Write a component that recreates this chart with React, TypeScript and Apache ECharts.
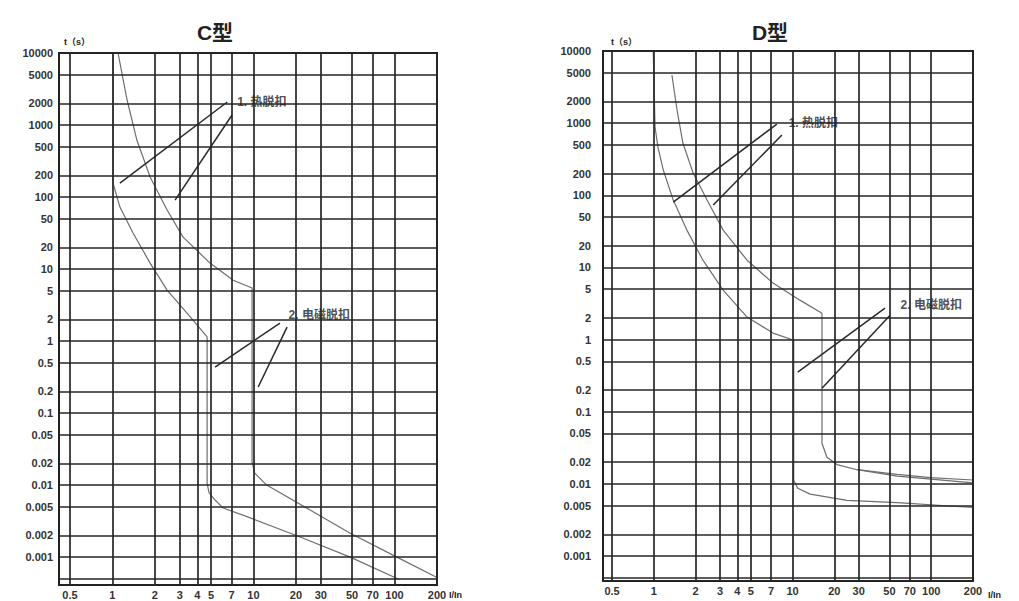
import React, { useEffect, useRef } from 'react';
import * as echarts from 'echarts';

// ---- tick values / labels ----
const xTickValues = [0.5, 1, 2, 3, 4, 5, 7, 10, 20, 30, 50, 70, 100, 200];
const xTickLabels = ['0.5', '1', '2', '3', '4', '5', '7', '10', '20', '30', '50', '70', '100', '200'];
const yTickValues = [10000, 5000, 2000, 1000, 500, 200, 100, 50, 20, 10, 5, 2, 1, 0.5, 0.2, 0.1, 0.05, 0.02, 0.01, 0.005, 0.002, 0.001];
const yTickLabels = ['10000', '5000', '2000', '1000', '500', '200', '100', '50', '20', '10', '5', '2', '1', '0.5', '0.2', '0.1', '0.05', '0.02', '0.01', '0.005', '0.002', '0.001'];
const yExtraLines = [0.0005];

const chartTitles = ['C型', 'D型'];
const xMins = [0.418, 0.43];
const xMaxs = [200, 200];
const yMins = [0.00041, 0.00045];
const yMaxs = [10000, 10000];

// ---- C type curves (I/In, t seconds) ----
const cLowerThermal = [[1.01, 10000], [1.01, 156], [1.13, 72.6], [1.4, 31.6], [1.85, 12.1], [2.44, 5.1], [3.38, 2.45], [4.69, 1.14]];
const cLowerMagnetic = [[4.69, 1.14], [4.69, 0.0105], [4.85, 0.0078], [5.34, 0.0062], [6.1, 0.0048], [9.5, 0.0035], [21.4, 0.0019], [48.5, 0.001], [108, 0.00049]];
const cUpperThermal = [[1.096, 10000], [1.27, 2224], [1.49, 619], [1.85, 190], [2.44, 66], [3.17, 27.8], [4.92, 12.1], [7.17, 7.0], [9.77, 5.45]];
const cUpperMagnetic = [[9.77, 5.45], [9.77, 0.0209], [10.2, 0.0147], [12.4, 0.01], [25.2, 0.0045], [48.5, 0.00215], [104, 0.001], [200, 0.00052]];
const cLeaders = [
  [[6.52, 2087], [1.13, 156]],
  [[7.05, 1377], [2.78, 90.8]],
  [[15.4, 1.78], [5.34, 0.435]],
  [[17.3, 1.56], [10.8, 0.23]],
];
const cNotes = [
  { name: '1. 热脱扣', value: [7.6, 2087] },
  { name: '2. 电磁脱扣', value: [17.6, 2.3] },
];

// ---- D type curves ----
const dLowerThermal = [[0.99, 10000], [1.02, 883], [1.07, 466], [1.17, 224], [1.38, 85.8], [1.73, 32.9], [2.26, 12.6], [3.16, 4.84], [4.7, 2.05], [7.23, 1.23], [10.2, 0.98]];
const dLowerMagnetic = [[10.2, 0.98], [10.2, 0.0112], [10.9, 0.0087], [13.4, 0.0072], [24.7, 0.0059], [56.8, 0.0055], [200, 0.0047]];
const dUpperThermal = [[1.35, 4650], [1.47, 1520], [1.62, 530], [1.92, 203], [2.42, 85.8], [3.16, 32.9], [4.7, 12.6], [7.23, 6.06], [11.3, 3.52], [16.3, 2.32]];
const dUpperMagnetic = [[16.3, 2.32], [16.3, 0.0366], [17.7, 0.0234], [20.9, 0.0185], [29.2, 0.0157], [56.8, 0.0135], [98.2, 0.0122], [200, 0.0113]];
const dUpperBranch = [[29.2, 0.0157], [56.8, 0.0128], [200, 0.0103]];
const dLeaders = [
  [[7.71, 972], [1.38, 80.5]],
  [[8.38, 684], [2.68, 73.1]],
  [[46.4, 2.73], [10.9, 0.353]],
  [[50.5, 2.18], [16.3, 0.212]],
];
const dNotes = [
  { name: '1. 热脱扣', value: [9.3, 1000] },
  { name: '2. 电磁脱扣', value: [59.6, 3.0] },
];

const FONT = "'Liberation Sans', 'Noto Sans CJK SC', sans-serif";

function gridMarkLine(yGap: number) {
  return {
    silent: true,
    symbol: ['none', 'none'],
    animation: false,
    precision: 8,
    lineStyle: { color: '#262626', width: 1.7, type: 'solid' },
    label: { show: true, position: 'start', fontSize: 11, fontWeight: 'bold', color: '#333', fontFamily: FONT },
    emphasis: { disabled: true },
    data: [
      ...xTickValues.map((v, i) => ({ xAxis: v, label: { formatter: xTickLabels[i], distance: 4 } })),
      ...yTickValues.map((v, i) => ({ yAxis: v, label: { formatter: yTickLabels[i], distance: yGap } })),
      ...yExtraLines.map((v) => ({ yAxis: v, label: { show: false } })),
    ],
  };
}

function curveSeries(data: number[][], idx: number, extra: any = {}) {
  return {
    type: 'line',
    xAxisIndex: idx,
    yAxisIndex: idx,
    data,
    symbol: 'none',
    silent: true,
    lineStyle: { color: '#6e6e6e', width: 1.2 },
    z: 3,
    ...extra,
  };
}

function leaderSeries(pair: number[][], idx: number) {
  return {
    type: 'line',
    xAxisIndex: idx,
    yAxisIndex: idx,
    data: pair,
    symbol: 'none',
    silent: true,
    lineStyle: { color: '#2a2a2a', width: 1.5 },
    z: 4,
  };
}

function noteSeries(notes: any[], idx: number) {
  return {
    type: 'scatter',
    xAxisIndex: idx,
    yAxisIndex: idx,
    data: notes,
    symbolSize: 1,
    silent: true,
    clip: false,
    itemStyle: { color: 'rgba(0,0,0,0)' },
    label: {
      show: true,
      position: 'right',
      distance: 0,
      formatter: '{b}',
      fontSize: 12,
      fontWeight: 'bold',
      color: '#222',
      fontFamily: FONT,
    },
    z: 5,
  };
}

export default function App() {
  const ref = useRef<HTMLDivElement>(null);
  useEffect(() => {
    if (!ref.current) return;
    const chart = echarts.init(ref.current, undefined, { renderer: 'svg' });
    const grids = [
      { left: 59, top: 53, width: 378, height: 532 },
      { left: 603, top: 51, width: 370, height: 530 },
    ].map((g) => ({ ...g, show: true, borderColor: '#222', borderWidth: 2, backgroundColor: 'transparent', containLabel: false }));

    const hidden = {
      axisLine: { show: false },
      axisTick: { show: false },
      axisLabel: { show: false },
      splitLine: { show: false },
    };
    const xAxes = [0, 1].map((i) => ({ type: 'log', logBase: 10, gridIndex: i, min: xMins[i], max: xMaxs[i], ...hidden }));
    const yAxes = [0, 1].map((i) => ({ type: 'log', logBase: 10, gridIndex: i, min: yMins[i], max: yMaxs[i], ...hidden }));

    const series: any[] = [
      curveSeries(cUpperThermal.concat(cUpperMagnetic.slice(1)), 0, { markLine: gridMarkLine(6) }),
      curveSeries(cLowerThermal.concat(cLowerMagnetic.slice(1)), 0),
      ...cLeaders.map((p) => leaderSeries(p, 0)),
      noteSeries(cNotes, 0),
      curveSeries(dUpperThermal.concat(dUpperMagnetic.slice(1)), 1, { markLine: gridMarkLine(12) }),
      curveSeries(dUpperBranch, 1),
      curveSeries(dLowerThermal.concat(dLowerMagnetic.slice(1)), 1),
      ...dLeaders.map((p) => leaderSeries(p, 1)),
      noteSeries(dNotes, 1),
    ];

    const textEl = (text: string, x: number, y: number, size: number, align: string, weight = 'bold') => ({
      type: 'text',
      x,
      y,
      silent: true,
      style: {
        text,
        fill: '#222',
        fontSize: size,
        fontWeight: weight,
        fontFamily: FONT,
        align,
        textAlign: align,
        verticalAlign: 'middle',
        textVerticalAlign: 'middle',
      },
    });

    chart.setOption({
      animation: false,
      backgroundColor: '#fff',
      textStyle: { fontFamily: FONT },
      grid: grids,
      xAxis: xAxes,
      yAxis: yAxes,
      series,
      graphic: [
        textEl(chartTitles[0], 215, 32, 21, 'center'),
        textEl(chartTitles[1], 770, 32, 21, 'center'),
        textEl('t（s）', 64, 42, 9, 'left'),
        textEl('t（s）', 611, 42, 9, 'left'),
        textEl('I/In', 449, 595, 9, 'left'),
        textEl('I/In', 988, 595, 9, 'left'),
      ],
    });
    return () => chart.dispose();
  }, []);
  return (
    <div
      ref={ref}
      style={{ position: 'fixed', left: 0, top: 0, width: 1019, height: 601, background: '#fff' }}
    />
  );
}
